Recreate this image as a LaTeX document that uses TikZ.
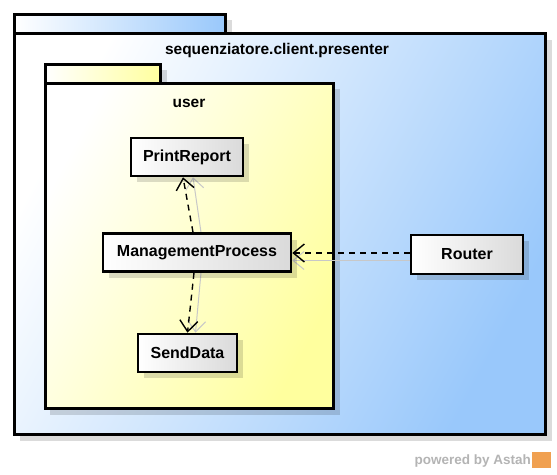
\documentclass[tikz,border=0pt]{standalone}
\usepackage{fontspec}
\setmainfont{Liberation Sans}
\usetikzlibrary{arrows.meta,shadows}
\definecolor{pkgblue}{HTML}{99C8FB}
\definecolor{pkgyellow}{HTML}{FFFF9E}
\definecolor{nodegray}{HTML}{DADADA}
\definecolor{faintc}{HTML}{C8C8C8}
\definecolor{astahgray}{HTML}{B4B4B4}
\definecolor{astahorange}{HTML}{F0A050}
\pgfdeclarelayer{pkg}
\pgfdeclarelayer{faintlayer}
\pgfsetlayers{pkg,faintlayer,main}
\begin{document}
\begin{tikzpicture}[x=1pt,y=-1pt,
  pkgline/.style={draw=black,line width=2.6},
  pkgshadow/.style={fill=black,opacity=0.14},
  classbox/.style={draw=black,line width=2.6,left color=white,right color=nodegray,
    minimum height=38,inner sep=0,font=\fontsize{16}{19}\selectfont\bfseries,
    drop shadow={shadow xshift=6pt,shadow yshift=-6pt,fill=black,opacity=0.14}},
  pkglabel/.style={font=\fontsize{15.5}{18}\selectfont\bfseries},
  dep/.style={draw=black,line width=1.4,dash pattern=on 6 off 5,
    -{Straight Barb[length=11,width=18]}},
  faint/.style={draw=faintc,line width=1,-{Straight Barb[length=11,width=18]}}
]
\useasboundingbox (0,0) rectangle (557,474);

\begin{pgfonlayer}{pkg}
\fill[white] (0,0) rectangle (557,474);
% outer package
\fill[pkgshadow] (20,20) rectangle (232,39);
\fill[pkgshadow] (20,40) rectangle (552,441);
\draw[pkgline,left color=white,right color=pkgblue] (14.5,14.5) rectangle (225.5,33.5);
\draw[pkgline,top color=white,bottom color=pkgblue,shading angle=62] (14.5,33.5) rectangle (545.5,434.5);
\node[pkglabel] (outerlabel) at (277,50) {sequenziatore.client.presenter};
% inner package
\fill[pkgshadow] (50,70) rectangle (167,83);
\fill[pkgshadow] (50,89) rectangle (340,415);
\draw[pkgline,left color=white,right color=pkgyellow] (45.5,64.5) rectangle (160.5,83.5);
\draw[pkgline,top color=white,bottom color=pkgyellow,shading angle=62] (45.5,83.5) rectangle (333.5,408.5);
\node[pkglabel] (innerlabel) at (189,103) {user};
\end{pgfonlayer}

% classes
\node[classbox,minimum width=112] (pr) at (187,157) {PrintReport};
\node[classbox,minimum width=188] (mp) at (197,252.5) {ManagementProcess};
\node[classbox,minimum width=99] (sd) at (187.5,353) {SendData};
\node[classbox,minimum width=112,minimum height=39] (router) at (467,254.5) {Router};

% faint connector shadows
\begin{pgfonlayer}{faintlayer}
\draw[faint] ([xshift=4]mp.north) -- ([xshift=6]pr.south);
\draw[faint] ([xshift=4]mp.south) -- ([xshift=8]sd.north);
\draw[faint] ([yshift=-6]router.west) -- ([yshift=-6]router.west -| mp.east);
\end{pgfonlayer}

% dependencies
\draw[dep] ([xshift=-4]mp.north) -- ([xshift=-4]pr.south);
\draw[dep] ([xshift=-3]mp.south) -- (sd.north);
\draw[dep] ([yshift=1.5]router.west) -- ([yshift=1.5]router.west -| mp.east);

% footer
\node[text=astahgray,font=\fontsize{13.5}{16}\selectfont\bfseries,anchor=east,inner sep=0] (powered) at (531,461) {powered by Astah};
\fill[astahorange] ([xshift=1]powered.east |- 0,452) rectangle +(19,16) coordinate (logo);
\end{tikzpicture}
\end{document}
